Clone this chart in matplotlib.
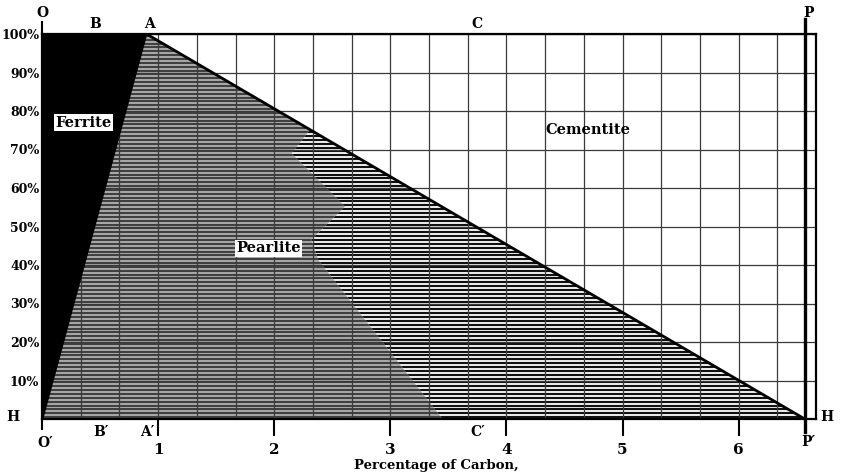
#! /usr/bin/env python3
# -*- coding:UTF-8 -*-
import numpy as np
import matplotlib.pyplot as plt
from matplotlib.patches import Polygon

# carbon axis (percent C) and structure axis (percent)
carbon_ticks = [1, 2, 3, 4, 5, 6]
pct_ticks = [10, 20, 30, 40, 50, 60, 70, 80, 90, 100]
pct_labels = ["10%", "20%", "30%", "40%", "50%", "60%", "70%", "80%", "90%", "100%"]
x_max = 20 / 3.0

# key points of the diagram
eutectoid = 0.9      # A
cementite = 6.57     # P
ferrite_poly = [(0, 0), (0, 100), (eutectoid, 100)]
pearlite_poly = [(0, 0), (eutectoid, 100), (cementite, 0)]
# free cementite part (dark hatching)
cem_poly = [(2.31, 75.2), (2.15, 69.0), (2.61, 55.2), (2.32, 46.6),
            (2.38, 41.3), (3.45, 0), (cementite, 0)]

# letters round the frame: (text, x, y)
corner_letters = [("O", 0, 105.5), ("B", 0.46, 102.6), ("A", 0.93, 102.6),
                  ("C", 3.75, 102.6), ("P", 6.6, 105.5),
                  ("O\u2032", 0.03, -6.3), ("B\u2032", 0.51, -3.5),
                  ("A\u2032", 0.91, -3.5), ("C\u2032", 3.75, -3.5),
                  ("P\u2032", 6.6, -6.0),
                  ("H", -0.25, 0.6), ("H", 6.76, 0.6)]
# region names: (text, x, y, boxed)
regions = [("Ferrite", 0.36, 77.0, True), ("Pearlite", 1.95, 44.3, True),
           ("Cementite", 4.70, 75.0, False)]

FONT = "DejaVu Serif"

fig = plt.figure(figsize=(8.41, 4.74), dpi=100)
ax = fig.add_axes([42 / 841, 55 / 474, 774 / 841, 385 / 474])
ax.set_xlim(0, x_max)
ax.set_ylim(0, 100)

# pearlite: grey with close horizontal lines
hatch_y = np.arange(0.5, 100, 1.0)
p_patch = Polygon(pearlite_poly, closed=True, facecolor="#a6a6a6", edgecolor="none", zorder=1)
ax.add_patch(p_patch)
lc = ax.hlines(hatch_y, 0, x_max, colors="#3a3a3a", linewidth=1.35, zorder=1.1)
lc.set_clip_path(p_patch)

# cementite part: black and white lines
c_patch = Polygon(cem_poly, closed=True, facecolor="#f2f2f2", edgecolor="none", zorder=1.2)
ax.add_patch(c_patch)
lc2 = ax.hlines(hatch_y, 0, x_max, colors="#111111", linewidth=1.5, zorder=1.3)
lc2.set_clip_path(c_patch)

# ferrite: solid black
ax.add_patch(Polygon(ferrite_poly, closed=True, facecolor="black", edgecolor="black", zorder=3))

# boundary A - P'
ax.plot([eutectoid, cementite], [100, 0], color="black", linewidth=2.0, zorder=4)

# grid every 1/3 % carbon and every 10 %
ax.set_xticks(carbon_ticks)
ax.set_xticks(np.arange(1, 20) / 3.0, minor=True)
ax.set_yticks(pct_ticks)
ax.set_yticklabels(pct_labels)
ax.set_xticklabels([str(c) for c in carbon_ticks])
ax.grid(True, which="both", color="#3a3a3a", linewidth=0.9)
ax.set_axisbelow(False)
ax.tick_params(axis="x", which="major", length=12, width=1.5, pad=5, labelsize=11)
ax.tick_params(axis="x", which="minor", length=0)
ax.tick_params(axis="y", length=0, pad=2, labelsize=9)
for lab in ax.get_xticklabels() + ax.get_yticklabels():
    lab.set_fontfamily(FONT)
    lab.set_fontweight("bold")
for sp in ax.spines.values():
    sp.set_linewidth(1.6)
    sp.set_zorder(5)

# P line (thick, runs past the frame), O line above, O' below
ax.plot([cementite, cementite], [-3.5, 104], color="black", linewidth=2.4,
        clip_on=False, zorder=5)
ax.plot([0, 0], [100, 103], color="black", linewidth=1.5, clip_on=False, zorder=5)
ax.plot([0, 0], [0, -2.5], color="black", linewidth=1.5, clip_on=False, zorder=5)

for txt, x, y in corner_letters:
    ax.text(x, y, txt, family=FONT, fontweight="bold", fontsize=10,
            ha="center", va="center", clip_on=False, zorder=6)

for txt, x, y, boxed in regions:
    kw = {}
    if boxed:
        kw["bbox"] = dict(boxstyle="square,pad=0.1", facecolor="white", edgecolor="none")
    ax.text(x, y, txt, family=FONT, fontweight="bold", fontsize=10.5,
            ha="center", va="center", zorder=6, **kw)

ax.text(3.4, -12.0, "Percentage of Carbon,", family=FONT, fontweight="bold",
        fontsize=9.5, ha="center", va="center", clip_on=False)

fig.savefig("out.png", dpi=100)
